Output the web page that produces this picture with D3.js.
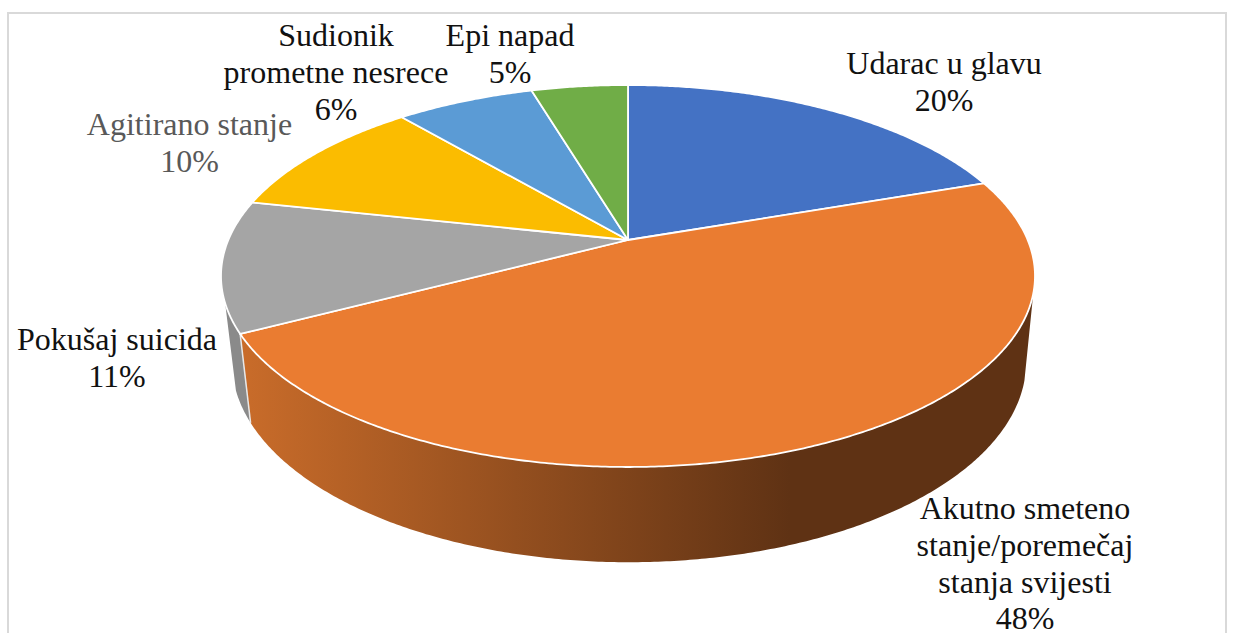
<!DOCTYPE html>
<html><head><meta charset="utf-8">
<script src="https://cdn.jsdelivr.net/npm/d3@7"></script>
<style>html,body{margin:0;padding:0;background:#fff;overflow:hidden}svg{display:block}</style>
</head><body><svg id="c" width="1236" height="633"></svg>
<script>
const categories = ["Udarac u glavu","Akutno smeteno stanje/poremečaj stanja svijesti","Pokušaj suicida","Agitirano stanje","Sudionik prometne nesrece","Epi napad"];
const values = [19.7,47.6,11.1,10.4,6.6,4.6];
const percentLabels = ["20%","48%","11%","10%","6%","5%"];
const labelLines = [["Udarac u glavu"],["Akutno smeteno","stanje/poremečaj","stanja svijesti"],["Pokušaj suicida"],["Agitirano stanje"],["Sudionik","prometne nesrece"],["Epi napad"]];
const colors = ["#4472c4","#ea7c31","#a5a5a5","#fbbc00","#5b9bd5","#70ad47"];
const labelColors = ["#111","#111","#111","#595959","#111","#111"];
const labelCentres = [[944,74],[1025,519],[117,350],[189.5,135],[336,46],[510,46]];

const svg = d3.select("#c");
svg.append("path").attr("d",`M8,640V13H1226V640`).attr("fill","none").attr("stroke","#d9d9d9").attr("stroke-width",2);

const k=0.1885;
const top3 = {xs:d3.scaleLinear([-1,1],[628-399.7,628+399.7]), ys:d3.scaleLinear([-1,1],[240-184.2,240+184.2])};
const bot3 = {xs:d3.scaleLinear([-1,1],[629-390,629+390]), ys:d3.scaleLinear([-1,1],[324.4-193,324.4+193])};
const proj=(p,t)=>{const u=Math.sin(t),v=-Math.cos(t),d=1-k*v;return [p.xs(u/d),p.ys(v/d)];};
const rim=(p,a,b)=>{const n=Math.max(2,Math.ceil(Math.abs(b-a)*120));return d3.range(n+1).map(i=>proj(p,a+(b-a)*i/n));};
const line=d3.line();
const pie=d3.pie().sort(null).value(d=>d)(values);

const deg=Math.PI/180;
const rightSil=106*deg, leftSil=251.2*deg;

const defs=svg.append("defs");
const g=defs.append("linearGradient").attr("id","wallO").attr("gradientUnits","userSpaceOnUse").attr("x1",241).attr("x2",790).attr("y1",0).attr("y2",0);
g.append("stop").attr("offset",0).attr("stop-color","#c96c2a");
g.append("stop").attr("offset",1).attr("stop-color","#5f3214");

// gray wall
const gs=pie[2];
svg.append("path").attr("d",line([...rim(top3,gs.startAngle,leftSil),...rim(bot3,leftSil,gs.startAngle)])+"Z").attr("fill","#8a8a8a");
// orange wall
const os=pie[1];
svg.append("path").attr("d",line([...rim(top3,rightSil,os.endAngle),...rim(bot3,os.endAngle,rightSil)])+"Z").attr("fill","url(#wallO)");
// divider
svg.append("path").attr("d",line([proj(top3,os.endAngle),proj(bot3,os.endAngle)])).attr("stroke","#e8e8e8").attr("stroke-width",1.5).attr("fill","none");

// top faces
svg.selectAll("path.slice").data(pie).join("path").attr("class","slice")
 .attr("d",d=>line([[top3.xs(0),top3.ys(0)],...rim(top3,d.startAngle,d.endAngle)])+"Z")
 .attr("fill",(d,i)=>colors[i]).attr("stroke","#fff").attr("stroke-width",1.8).attr("stroke-linejoin","round");

// labels
const lh=36.8;
const tg=svg.append("g").attr("font-family","'Liberation Serif',serif").attr("font-size",32).attr("text-anchor","middle");
labelLines.forEach((lines,i)=>{
  [...lines,percentLabels[i]].forEach((s,j)=>{
    tg.append("text").attr("x",labelCentres[i][0]).attr("y",labelCentres[i][1]+j*lh).attr("fill",labelColors[i]).text(s);
  });
});
</script></body></html>
